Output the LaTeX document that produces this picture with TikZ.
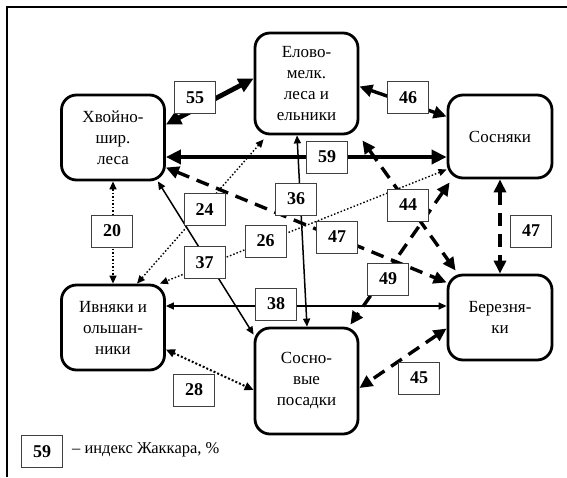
\documentclass[tikz,border=0pt]{standalone}
\usepackage{fontspec}
\setmainfont{Liberation Serif}
\usetikzlibrary{arrows.meta}
\begin{document}
\begin{tikzpicture}[x=1pt,y=1pt,
  forest/.style={draw, line width=2.8pt, rounded corners=15pt, minimum width=103pt, align=center, font=\fontsize{17}{21}\selectfont, inner sep=0pt},
  num/.style={draw=black!75, line width=0.9pt, fill=white, minimum width=41pt, minimum height=32pt, inner sep=0pt, font=\fontsize{18}{20}\selectfont\bfseries},
  heavy/.style={line width=4.8pt, {Triangle[length=15pt,width=14pt]}-{Triangle[length=15pt,width=14pt]}},
  med/.style={line width=3.4pt, {Triangle[length=13pt,width=12pt]}-{Triangle[length=13pt,width=12pt]}},
  dasharrow/.style={line width=3.4pt, dash pattern=on 13pt off 8pt, {Triangle[length=13pt,width=12pt]}-{Triangle[length=13pt,width=12pt]}},
  thinarrow/.style={line width=1.5pt, {Triangle[length=8pt,width=7pt]}-{Triangle[length=8pt,width=7pt]}},
  dotarrow/.style={line width=1.4pt, dash pattern=on 1.5pt off 2pt, {Triangle[length=8pt,width=7pt]}-{Triangle[length=8pt,width=7pt]}},
  dotarrowb/.style={line width=2pt, dash pattern=on 2pt off 2pt, {Triangle[length=9pt,width=8pt]}-{Triangle[length=9pt,width=8pt]}}
]
\useasboundingbox (0,0) rectangle (567,-477);
\draw[line width=2pt] (7,-477) -- (7,-7) -- (567,-7);

% forest type nodes
\node[forest, minimum height=101pt] (e) at (306.5,-83.5) {Елово-\\мелк.\\леса и\\ельники};
\node[forest, minimum height=85pt] (h) at (113,-137.5) {Хвойно-\\шир.\\леса};
\node[forest, minimum width=104pt, minimum height=83pt] (s) at (500,-136.5) {Сосняки};
\node[forest, minimum height=85pt] (i) at (113,-327.5) {Ивняки и\\ольшан-\\ники};
\node[forest, minimum width=104pt, minimum height=85pt] (b) at (500,-317.5) {Березня-\\ки};
\node[forest, minimum height=106pt] (p) at (306.5,-381) {Сосно-\\вые\\посадки};

% connectors
\draw[heavy] ([yshift=13pt]h.east) -- ([yshift=5pt]e.west);
\draw[med] ([yshift=-3pt]e.east) -- ([yshift=20pt]s.west);
\draw[heavy] ([yshift=-19.5pt]h.east) -- ([yshift=-20.5pt]s.west);
\draw[thinarrow] ([xshift=-9.5pt]e.south) -- ([xshift=0.5pt]p.north);
\draw[dasharrow] ([xshift=3pt,yshift=-5pt]e.south east) -- ([xshift=9pt,yshift=3pt]b.north west);
\draw[dasharrow] (s.south) -- (b.north);
\draw[dasharrow] ([yshift=-30pt]h.east) -- ([yshift=35pt]b.west);
\draw[dasharrow] ([xshift=3pt,yshift=-3pt]s.south west) -- ([xshift=-9pt,yshift=2pt]p.north east);
\draw[dotarrow] ([xshift=10pt,yshift=-4pt]e.south west) -- ([xshift=24pt]i.north);
\draw[dotarrow] ([yshift=-33pt]s.west) -- ([xshift=-6pt]i.north east);
\draw[thinarrow] ([xshift=-8pt]h.south east) -- ([yshift=-8pt]p.north west);
\draw[dotarrow] (h.south) -- (i.north);
\draw[thinarrow] ([yshift=21.5pt]i.east) -- ([yshift=11.5pt]b.west);
\draw[dotarrowb] ([yshift=-22pt]i.east) -- ([yshift=-9pt]p.west);
\draw[dasharrow] ([yshift=-11pt]b.west) -- ([yshift=-7pt]p.east);

% Jaccard index labels
\node[num] (n55) at (195,-97.5) {55};
\node[num] (n46) at (408,-97.5) {46};
\node[num] (n59) at (327,-157) {59};
\node[num] (n24) at (204.5,-209.5) {24};
\node[num] (n36) at (296,-199) {36};
\node[num] (n44) at (408,-205) {44};
\node[num] (n20) at (112,-231) {20};
\node[num] (n26) at (265.5,-241) {26};
\node[num] (n47m) at (337,-237) {47};
\node[num] (n47r) at (531,-231) {47};
\node[num] (n37) at (204.5,-262.5) {37};
\node[num] (n49) at (388,-279) {49};
\node[num] (n38) at (276,-304) {38};
\node[num] (n28) at (194,-390) {28};
\node[num] (n45) at (419,-378) {45};

% legend
\node[num] (leg) at (42,-451.5) {59};
\node[anchor=west, inner sep=0pt, font=\fontsize{16.5}{18}\selectfont] (legt) at (72,-450) {– индекс Жаккара, \%};
\end{tikzpicture}
\end{document}
